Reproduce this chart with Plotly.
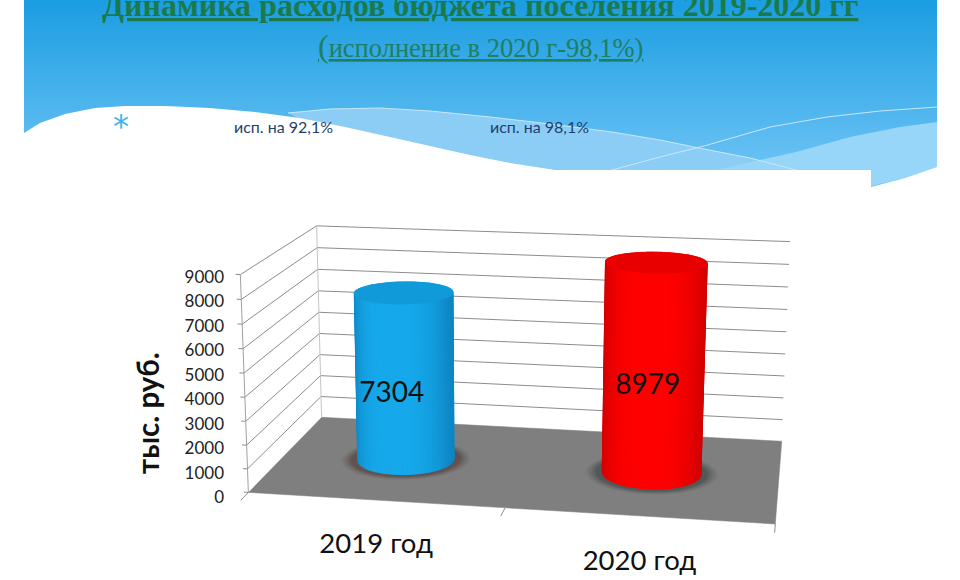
import numpy as np
import plotly.graph_objects as go

# ---- data ----
categories = ["2019 год", "2020 год"]
values = [7304, 8979]
value_labels = ["7304", "8979"]
z_ticks = [0, 1000, 2000, 3000, 4000, 5000, 6000, 7000, 8000, 9000]
notes = ["исп. на 92,1%", "исп. на 98,1%"]
title_line1 = "Динамика расходов бюджета поселения 2019-2020 гг"
title_line2 = "исполнение в 2020 г-98,1%)"
axis_title = "тыс. руб."

W, H = 960, 580
ZMAX = 9000

# ---- perspective calibration: (category, depth, value) -> page ----
calib = [((0, 0, 0), (249, 492)), ((2, 0, 0), (775, 525)), ((0, 1, 0), (321, 418)),
         ((2, 1, 0), (782, 440)), ((0, 0, ZMAX), (240, 274)), ((0, 1, ZMAX), (317, 226)),
         ((2, 1, ZMAX), (790, 242))]
A, b = [], []
for (c, d, v), (px, py) in calib:
    v = v / ZMAX
    A.append([c, d, v, 1, 0, 0, 0, 0, -px * c, -px * d, -px * v])
    A.append([0, 0, 0, 0, c, d, v, 1, -py * c, -py * d, -py * v])
    b += [px, py]
P = np.append(np.linalg.lstsq(np.array(A, float), np.array(b, float), rcond=None)[0], 1).reshape(3, 4)


def proj(c, d, v):
    c, d, v = np.broadcast_arrays(np.asarray(c, float), np.asarray(d, float), np.asarray(v, float))
    p = np.stack([c, d, v / ZMAX, np.ones_like(c)])
    q = P @ p.reshape(4, -1)
    return (q[0] / q[2]).reshape(c.shape), (q[1] / q[2]).reshape(c.shape)


def mix(a, b, t):
    a = np.array(a)
    b = np.array(b)
    r = a + (b - a) * t
    return "rgb(%d,%d,%d)" % tuple(r)


fig = go.Figure()


def poly(xs, ys, color, lw=1.2):
    fig.add_trace(go.Scatter(x=np.asarray(xs).tolist(), y=np.asarray(ys).tolist(), mode="lines", fill="toself",
                             fillcolor=color, line=dict(color=color, width=lw), hoverinfo="skip"))


def line(xs, ys, color="#8c8c8c", width=1.0):
    fig.add_trace(go.Scatter(x=np.asarray(xs).tolist(), y=np.asarray(ys).tolist(), mode="lines",
                             line=dict(color=color, width=width), hoverinfo="skip"))


# floor
fx, fy = proj([0, 2, 2, 0], [0, 0, 1, 1], [0, 0, 0, 0])
poly(fx, fy, "#7f7f7f", 0.5)

# walls' gridlines and edges
for z in z_ticks[1:]:
    gx, gy = proj([-0.018, 0, 0, 2], [0, 0, 1, 1], [z] * 4)
    line(gx, gy)
gx, gy = proj([0, 0], [0, 0], [0, ZMAX])
line(gx, gy, "#a0a0a0")
gx, gy = proj([0, 0], [1, 1], [0, ZMAX])
line(gx, gy, "#c4c4c4")
gx, gy = proj([-0.018, 0], [0, 0], [0, 0])
line(gx, gy)
for c in [0, 1, 2]:
    gx, gy = proj([c, c], [0, -0.09], [0, 0])
    line(gx, gy)

# cylinders
RAD_C, RAD_D = 0.195, 0.195
styles = [dict(edge=(14, 134, 196), mid=(22, 170, 236), lid=(16, 154, 218), shadow=(70, 45, 40)),
          dict(edge=(210, 0, 0), mid=(255, 0, 0), lid=(232, 0, 0), shadow=(45, 55, 55))]
N = 72
th = np.linspace(0, 2 * np.pi, N + 1)
for i, val in enumerate(values):
    cx = i + 0.5
    s = styles[i]
    for k, al in [(1.34, 0.06), (1.3, 0.08), (1.26, 0.1), (1.22, 0.12), (1.18, 0.14), (1.14, 0.18)]:
        ex, ey = proj(cx + k * RAD_C * np.cos(th), 0.5 + k * RAD_D * np.sin(th), 0 * th)
        color = "rgba(%d,%d,%d,%.2f)" % (*s["shadow"], al)
        poly(ex, ey, color, 0)
    order = sorted(range(N), key=lambda j: -np.sin((th[j] + th[j + 1]) / 2))
    for j in order:
        a, b2 = th[j], th[j + 1]
        cc = [cx + RAD_C * np.cos(a), cx + RAD_C * np.cos(b2)]
        dd = [0.5 + RAD_D * np.sin(a), 0.5 + RAD_D * np.sin(b2)]
        x0, y0 = proj(cc, dd, [0, 0])
        x1, y1 = proj(cc, dd, [val, val])
        t = np.cos((a + b2) / 2)
        poly([x0[0], x0[1], x1[1], x1[0]], [y0[0], y0[1], y1[1], y1[0]], mix(s["edge"], s["mid"], 1 - abs(t) ** 3))
    lx, ly = proj(cx + RAD_C * np.cos(th), 0.5 + RAD_D * np.sin(th), val + 0 * th)
    poly(lx, ly, mix(s["lid"], s["lid"], 0))

# value axis (real tick labels)
ex, _ = proj([0] * len(z_ticks), [0] * len(z_ticks), z_ticks)
fig.add_trace(go.Scatter(x=ex.tolist(), y=z_ticks, yaxis="y2", mode="lines", opacity=0,
                         line=dict(width=0), hoverinfo="skip"))

# value and category labels
VAL_SHIFT = [(-13, 18), (-6, 18)]
CAT_SHIFT = [(1, 46), (1, 47)]
for i, val in enumerate(values):
    mx, my = proj(i + 0.5, 0.5, val / 2)
    fig.add_trace(go.Scatter(x=[float(mx) + VAL_SHIFT[i][0]], y=[float(my) + VAL_SHIFT[i][1]], mode="text",
                             text=[value_labels[i]], textposition="middle center", hoverinfo="skip",
                             textfont=dict(family="Lato", size=28, color="#111111")))
    bx, by = proj(i + 0.5, 0, 0)
    fig.add_trace(go.Scatter(x=[float(bx) + CAT_SHIFT[i][0]], y=[float(by) + CAT_SHIFT[i][1]], mode="text",
                             text=[categories[i]], textposition="middle center", hoverinfo="skip",
                             textfont=dict(family="Lato", size=27.5, color="#111111")))

# ---- slide background ----
shapes = []
def rect(x0, y0, x1, y1, color):
    shapes.append(dict(type="rect", xref="x", yref="y", x0=x0, y0=y0, x1=x1, y1=y1,
                       fillcolor=color, line=dict(width=0), layer="below"))
def path(points, color, line_only=False, width=1.0):
    d = "M " + " L ".join(f"{x},{y}" for x, y in points)
    if line_only:
        shapes.append(dict(type="path", xref="x", yref="y", path=d, line=dict(color=color, width=width), layer="below"))
    else:
        shapes.append(dict(type="path", xref="x", yref="y", path=d + " Z", fillcolor=color, line=dict(width=0), layer="below"))

top, bottom = (28, 158, 226), (118, 200, 247)
for y in range(0, 190, 4):
    rect(24, y, 937, y + 5, mix(top, bottom, y / 190))

# light waves
path([(288, 113), (330, 109), (380, 108), (430, 111), (490, 117), (550, 124), (612, 132), (660, 140),
      (704, 149), (750, 158), (796, 170), (600, 190), (400, 170)], "#8ccdf6")
path([(716, 170), (760, 160), (796, 152), (850, 137), (900, 127), (937, 122), (937, 167), (905, 178),
      (871, 186), (871, 170)], "#97d5f9")
path([(612, 170), (660, 157), (704, 146), (770, 127), (827, 117), (880, 111), (937, 107)], "#c7e8fc", True)
path([(288, 113), (330, 109), (380, 108), (430, 111), (490, 117), (550, 124), (612, 132), (660, 140),
      (704, 149), (750, 158), (796, 170)], "#c7e8fc", True)

# white body of the slide
path([(0, 133), (24, 133), (40, 123), (65, 114), (95, 108), (125, 106), (165, 106), (210, 108), (255, 112),
      (300, 118), (345, 127), (390, 137), (430, 146), (470, 155), (510, 163), (555, 170), (871, 170), (871, 187),
      (905, 178), (937, 167), (960, 167), (960, 580), (0, 580)], "#ffffff")
rect(0, 0, 24, 140, "#ffffff")
rect(937, 0, 960, 190, "#ffffff")

annotations = [
    dict(x=480, y=5, text=f"<b><u>{title_line1}</u></b>", font=dict(family="Liberation Serif", size=32, color="#1b7a4c")),
    dict(x=480, y=46, text=f"<u><span style='font-size:32px'>(</span>{title_line2}</u>",
         font=dict(family="Liberation Serif", size=26.5, color="#1f7f5e")),
    dict(x=121, y=126, text="*", font=dict(family="DejaVu Sans", size=32, color="#3db3ea")),
    dict(x=283, y=126, text=notes[0], font=dict(family="Lato", size=16, color="#1c3f6e")),
    dict(x=539, y=126, text=notes[1], font=dict(family="Lato", size=16, color="#1c3f6e")),
    dict(x=150, y=413, text=f"<b>{axis_title}</b>", textangle=-90, font=dict(family="Lato", size=29.5, color="#111111")),
]
for a in annotations:
    a.update(xref="x", yref="y", showarrow=False, xanchor="center", yanchor="middle")
annotations[-1]["x"] = 147

fig.update_layout(
    width=W, height=H, margin=dict(l=0, r=0, t=0, b=0, autoexpand=False), paper_bgcolor="#ffffff",
    plot_bgcolor="rgba(0,0,0,0)",
    showlegend=False, shapes=shapes, annotations=annotations,
    xaxis=dict(range=[0, W], visible=False, fixedrange=True, domain=[0, 1]),
    yaxis=dict(range=[H, 0], visible=False, fixedrange=True, domain=[0, 1]),
    yaxis2=dict(domain=[1 - 497 / H, 1 - 277 / H], range=[0, ZMAX], tickvals=z_ticks, ticks="", anchor="free",
                position=224 / W, showgrid=False, zeroline=False, showline=False, fixedrange=True,
                tickfont=dict(family="Lato", size=17, color="#222222")),
)
fig.write_html("out.html", config={"displayModeBar": False},
               post_script="document.body.style.margin='0';document.body.style.overflow='hidden';")
